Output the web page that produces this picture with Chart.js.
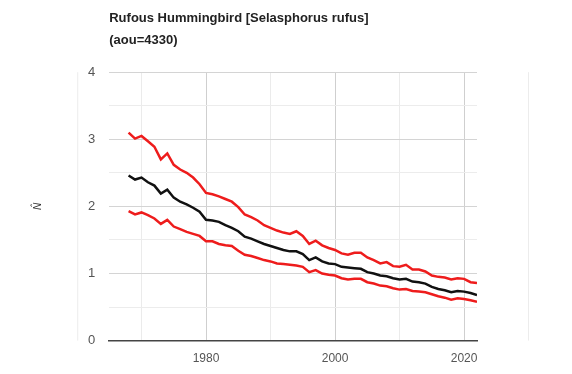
<!DOCTYPE html>
<html>
<head>
<meta charset="utf-8">
<script src="https://cdn.jsdelivr.net/npm/chart.js@4.4.0/dist/chart.umd.min.js"></script>
<style>
  html, body { margin: 0; padding: 0; background: #fff; }
  #wrap { width: 572px; height: 374px; }
</style>
</head>
<body>
<div id="wrap"><canvas id="grafico"></canvas></div>
<script>
// dados (indice anual)
const anos = [];
for (let a = 1968; a <= 2022; a++) anos.push(a);

const limiteSuperior = [
  3.10, 3.01, 3.05, 2.97, 2.89, 2.70, 2.79, 2.62, 2.55, 2.50, 2.43, 2.33,
  2.20, 2.18, 2.15, 2.11, 2.07, 1.99, 1.88, 1.84, 1.79, 1.72,
  1.68, 1.64, 1.61, 1.59, 1.63, 1.56, 1.44, 1.49, 1.42, 1.38,
  1.35, 1.30, 1.28, 1.31, 1.31, 1.24, 1.20, 1.15, 1.17, 1.11,
  1.10, 1.13, 1.06, 1.06, 1.03, 0.97, 0.95, 0.94, 0.91, 0.93,
  0.92, 0.87, 0.86
];
const indice = [
  2.46, 2.40, 2.43, 2.36, 2.31, 2.19, 2.25, 2.13, 2.07, 2.03, 1.98, 1.92,
  1.80, 1.79, 1.77, 1.72, 1.68, 1.63, 1.55, 1.52, 1.48, 1.44,
  1.41, 1.38, 1.35, 1.33, 1.33, 1.29, 1.20, 1.24, 1.18, 1.15,
  1.14, 1.10, 1.09, 1.08, 1.07, 1.02, 1.00, 0.97, 0.96, 0.93,
  0.91, 0.92, 0.88, 0.87, 0.85, 0.80, 0.77, 0.75, 0.72, 0.74,
  0.73, 0.71, 0.68
];
const limiteInferior = [
  1.93, 1.88, 1.91, 1.87, 1.82, 1.74, 1.80, 1.70, 1.66, 1.62, 1.59, 1.56,
  1.48, 1.48, 1.44, 1.42, 1.41, 1.34, 1.28, 1.26, 1.23, 1.20,
  1.18, 1.15, 1.14, 1.13, 1.12, 1.10, 1.02, 1.05, 1.00, 0.98,
  0.97, 0.93, 0.91, 0.92, 0.92, 0.87, 0.85, 0.82, 0.81, 0.78,
  0.76, 0.77, 0.74, 0.73, 0.72, 0.69, 0.66, 0.64, 0.61, 0.63,
  0.62, 0.60, 0.58
];

const ticksX = [1970, 1980, 1990, 2000, 2010, 2020];
const rotulosX = [1980, 2000, 2020];
const ticksY = [0, 0.5, 1, 1.5, 2, 2.5, 3, 3.5, 4];
const rotulosY = [0, 1, 2, 3, 4];

function pontos(valores) {
  return valores.map((v, i) => ({ x: anos[i], y: v }));
}

function serie(label, valores, cor) {
  return {
    label: label,
    data: pontos(valores),
    borderColor: cor,
    borderWidth: 2.5,
    pointRadius: 0,
    tension: 0,
    fill: false
  };
}

// linhas claras dos lados (moldura do painel)
const molduraPlugin = {
  id: 'moldura',
  beforeDraw(chart) {
    const ca = chart.chartArea;
    const c = chart.ctx;
    c.save();
    c.strokeStyle = '#ececec';
    c.lineWidth = 1;
    c.beginPath();
    c.moveTo(ca.left - 31.5, ca.top);
    c.lineTo(ca.left - 31.5, ca.bottom);
    c.moveTo(ca.right + 51.5, ca.top);
    c.lineTo(ca.right + 51.5, ca.bottom);
    c.stroke();
    c.restore();
  }
};

Chart.defaults.font.family = 'Arial, "Liberation Sans", sans-serif';

new Chart(document.getElementById('grafico'), {
  type: 'line',
  data: {
    datasets: [
      serie('limite superior', limiteSuperior, '#ee1c1c'),
      serie('indice', indice, '#111111'),
      serie('limite inferior', limiteInferior, '#ee1c1c')
    ]
  },
  options: {
    responsive: true,
    maintainAspectRatio: false,
    animation: false,
    layout: { padding: { left: 32, right: 95, top: 0, bottom: -3 } },
    plugins: {
      legend: { display: false },
      tooltip: { enabled: false },
      title: {
        display: true,
        fullSize: false,
        align: 'start',
        text: ['Rufous Hummingbird [Selasphorus rufus]', '(aou=4330)'],
        color: '#222',
        font: { size: 13, weight: 'bold', lineHeight: 1.7 },
        padding: { top: 7, bottom: 21 }
      }
    },
    scales: {
      x: {
        type: 'linear',
        min: 1965,
        max: 2022,
        afterBuildTicks(scale) {
          scale.ticks = ticksX.map(v => ({ value: v }));
        },
        ticks: {
          autoSkip: false,
          maxRotation: 0,
          padding: 11,
          color: '#555',
          font: { size: 12 },
          callback: v => rotulosX.includes(v) ? String(v) : ''
        },
        grid: {
          drawTicks: false,
          color: ctx => (ctx.tick && rotulosX.includes(ctx.tick.value)) ? '#cfcfcf' : '#ebebeb'
        },
        border: { display: true, color: '#444', width: 1.5 }
      },
      y: {
        min: 0,
        max: 4,
        afterBuildTicks(scale) {
          scale.ticks = ticksY.map(v => ({ value: v }));
        },
        ticks: {
          autoSkip: false,
          padding: 14,
          color: '#555',
          font: { size: 13 },
          callback: v => rotulosY.includes(v) ? String(v) : ''
        },
        grid: {
          drawTicks: false,
          color: ctx => (ctx.tick && rotulosY.includes(ctx.tick.value)) ? '#d4d4d4' : '#ececec'
        },
        border: { display: false },
        title: {
          display: true,
          text: 'N\u0302',
          color: '#333',
          font: { size: 10, style: 'italic' },
          padding: { top: 0, bottom: 30 }
        }
      }
    }
  },
  plugins: [molduraPlugin]
});
</script>
</body>
</html>
